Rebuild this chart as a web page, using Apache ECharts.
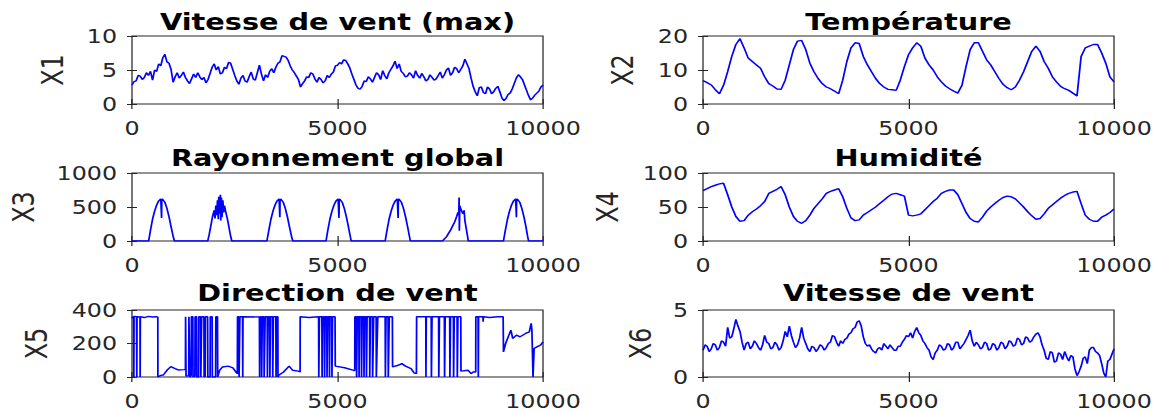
<!DOCTYPE html>
<html><head><meta charset="utf-8">
<script src="https://cdn.jsdelivr.net/npm/echarts@6.0.0/dist/echarts.min.js"></script>
<style>
html,body{margin:0;padding:0;background:#fff;overflow:hidden}
#wrap{width:1159px;height:412px;overflow:hidden;position:relative;background:#fff}
#chart{width:927.2px;height:412px;transform:scaleX(1.25);transform-origin:0 0}
</style></head>
<body><div id="wrap"><div id="chart"></div></div>
<script>
// ---------------- DATA ----------------
const titles = ['Vitesse de vent (max)', 'Température', 'Rayonnement global', 'Humidité', 'Direction de vent', 'Vitesse de vent'];
const yNames = ['X1', 'X2', 'X3', 'X4', 'X5', 'X6'];
const xTickValues = [0, 5000, 10000];
const yMax = [10, 20, 1000, 100, 400, 5];
const yInterval = [5, 10, 500, 50, 200, 5];
const stepFine = 50;    // x spacing of x1 and x6
const stepCoarse = 100; // x spacing of x2 and x4

const x1 = [
  2.8,3.3,3.4,4.2,4.1,3.6,3.9,4.6,4.2,4.8,3.5,5.0,4.8,5.9,5.6,6.8,7.3,6.2,6.0,5.1,
  3.2,4.0,4.6,3.8,4.2,4.7,3.9,3.4,3.0,3.7,4.4,3.9,4.6,4.0,3.6,3.9,3.1,3.6,4.5,5.4,
  5.9,5.0,5.5,4.4,4.6,5.4,5.2,6.1,6.0,5.1,4.2,3.4,2.9,3.8,4.2,3.4,3.2,4.0,4.7,3.7,
  3.5,4.6,5.7,4.4,3.4,4.3,3.9,4.8,5.2,4.6,5.4,6.0,6.2,7.1,7.0,6.9,6.4,5.6,5.0,4.6,
  4.1,3.6,2.5,3.0,3.4,4.0,3.9,4.6,4.4,3.7,3.2,3.9,3.6,3.1,3.4,4.2,3.9,4.4,4.7,5.6,
  5.7,6.1,5.9,6.5,6.4,5.9,5.3,4.4,3.6,2.8,2.3,2.2,2.6,3.4,3.3,4.0,3.7,3.2,3.9,4.6,
  4.3,3.6,4.9,4.2,3.7,4.6,5.1,5.6,6.3,5.2,5.9,4.8,4.5,4.0,4.1,4.6,4.3,3.8,4.9,4.2,
  3.8,4.5,4.0,3.4,3.6,4.3,3.9,3.5,3.7,4.2,4.7,3.8,4.3,5.0,5.3,4.2,4.6,5.4,5.2,4.6,
  5.1,5.6,6.6,5.9,5.2,3.8,2.6,1.8,1.2,2.4,2.5,1.7,1.5,2.5,2.2,1.5,1.8,2.3,2.6,1.8,
  0.9,0.5,0.8,1.4,1.6,2.2,3.0,3.8,4.3,4.0,3.6,2.8,2.0,1.2,0.6,0.9,1.3,1.6,1.9,2.5,
  2.8
];
const x2 = [
  6.9,6.3,5.6,4.2,3.0,5.5,9.5,14.0,17.5,19.2,
  16.5,13.5,12.5,11.5,10.5,8.0,6.0,5.3,4.4,4.3,
  7.0,11.5,16.0,18.5,18.7,16.0,12.0,9.5,7.5,6.0,
  5.0,4.5,3.8,3.0,7.0,12.5,16.5,18.0,17.8,14.0,
  11.5,9.5,7.5,6.0,5.0,4.3,4.2,4.0,7.0,11.0,
  14.5,16.5,18.0,17.0,13.5,11.5,10.0,8.0,6.5,5.3,
  4.5,3.8,3.2,5.5,11.0,16.0,18.0,18.0,15.5,13.0,
  11.5,9.5,7.5,5.8,4.8,4.2,5.0,7.0,9.5,12.5,
  15.5,17.0,15.5,12.5,10.5,8.0,6.5,5.2,4.5,4.0,
  3.2,2.4,14.0,16.5,17.0,17.5,17.5,15.0,12.0,8.0,
  6.5
];
const x3 = [
  [0,0],[405,0],[450,160],[500,320],[550,440],[600,530],[650,590],[700,620],[715,620],[720,340],[725,615],[750,610],[800,570],[850,480],[900,360],[950,210],[1000,70],[1034,0],
  [1843,0],[1880,100],[1920,230],[1960,360],[2000,450],[2020,330],[2040,520],[2060,380],[2080,600],[2100,320],[2110,650],[2130,400],[2150,680],[2160,300],[2175,640],[2190,350],[2210,600],[2230,420],[2250,520],[2280,430],[2320,330],[2360,200],[2400,70],[2428,0],
  [3282,0],[3330,160],[3380,320],[3430,440],[3480,530],[3530,590],[3580,620],[3592,620],[3597,350],[3602,615],[3630,610],[3680,570],[3730,480],[3780,360],[3830,210],[3880,70],[3912,0],
  [4721,0],[4765,160],[4815,320],[4865,440],[4915,530],[4965,590],[5015,620],[5030,620],[5036,340],[5042,615],[5065,610],[5115,570],[5165,480],[5215,360],[5265,210],[5310,70],[5333,0],
  [6160,0],[6205,160],[6255,320],[6305,440],[6355,530],[6405,590],[6455,620],[6470,620],[6475,340],[6480,615],[6505,610],[6555,570],[6605,480],[6655,360],[6705,210],[6750,70],[6772,0],
  [7554,0],[7650,60],[7750,160],[7850,280],[7900,360],[7930,420],[7950,380],[7959,640],[7965,150],[7975,520],[8000,470],[8050,400],[8080,450],[8100,300],[8150,120],[8183,0],
  [9038,0],[9085,160],[9135,320],[9185,440],[9235,530],[9285,590],[9335,620],[9348,620],[9353,350],[9358,615],[9385,610],[9435,570],[9485,480],[9535,360],[9585,210],[9625,70],[9649,0],[10000,0]
];
const x4 = [
  74,77,80,82,84,85,68,50,36,29,
  30,38,43,47,52,58,70,73,76,80,
  68,50,36,29,26,30,38,48,55,62,
  70,73,75,77,65,48,34,30,31,38,
  42,46,50,55,60,65,69,70,68,66,
  38,37,38,40,46,52,58,63,70,73,
  75,75,68,55,42,33,29,28,35,44,
  50,55,60,64,66,65,62,56,50,43,
  37,32,33,40,48,53,58,63,67,70,
  72,73,55,38,32,29,29,35,38,42,
  47
];
const x5 = [
  [0,350],[20,360],[40,358],[45,0],[50,362],[110,360],[117,0],[122,360],[195,358],[198,0],[203,360],[300,355],[400,362],[500,358],[600,360],[628,358],
  [630,0],[700,10],[764,12],[850,40],[944,62],[1050,50],[1124,42],[1259,44],[1300,45],
  [1304,360],[1310,360],[1315,5],[1380,8],[1385,360],[1400,360],[1405,0],[1440,10],[1445,360],[1480,360],[1485,0],[1530,5],[1535,360],[1570,360],[1575,0],[1620,0],[1625,360],[1670,360],[1675,0],[1690,0],[1695,360],[1750,360],[1755,0],[1780,5],[1785,360],[1840,360],[1845,0],[1900,0],[1905,360],[1950,360],[1955,0],[2035,0],[2040,360],[2080,360],[2085,0],
  [2131,40],[2203,60],[2338,65],[2455,55],[2545,25],[2563,20],
  [2568,360],[2600,360],[2605,0],[2620,0],[2625,360],[2690,360],[2695,0],[2700,360],[3100,358],[3105,0],[3115,360],[3150,360],[3155,0],[3170,360],[3210,360],[3215,0],[3240,360],[3290,360],[3295,0],[3310,360],[3350,360],[3355,0],[3370,360],[3420,360],[3425,0],[3440,360],[3500,360],[3505,0],[3520,360],[3548,360],
  [3552,0],[3570,10],[3687,30],[3822,65],[3912,40],[4047,35],[4090,30],
  [4092,360],[4300,355],[4540,360],[4545,0],[4560,360],[4620,360],[4625,0],[4640,360],[4680,360],[4685,0],[4700,360],[4740,360],[4745,0],[4760,360],[4800,360],[4805,0],[4815,360],[4860,360],[4865,0],[4880,360],[4940,360],
  [4946,65],[5171,55],[5396,40],[5420,38],
  [5423,360],[5460,360],[5465,0],[5480,360],[5520,360],[5525,0],[5535,360],[5580,360],[5585,0],[5600,360],[5640,360],[5645,0],[5660,360],[5700,360],[5705,0],[5720,360],[5780,360],[5785,0],[5800,360],[5850,360],[5855,0],[5880,360],[5940,360],[5945,0],[5980,360],[6160,360],[6165,0],[6180,360],[6230,360],[6235,0],[6260,360],[6335,360],
  [6340,60],[6475,70],[6565,80],[6655,65],[6790,50],[6862,25],[6920,20],
  [6925,360],[7149,360],[7152,0],[7160,360],[7280,360],[7285,0],[7300,360],[7460,360],[7465,0],[7480,360],[7600,360],[7605,0],[7620,360],[7730,360],[7735,0],[7750,360],[7820,360],[7825,0],[7840,360],[7910,360],[7915,0],[7930,360],[8000,360],
  [8004,35],[8180,40],[8250,20],[8300,30],[8363,30],
  [8366,360],[8420,360],[8426,0],[8432,360],[8540,360],[8543,330],[8550,360],[8700,355],[8900,360],[9030,360],
  [9038,150],[9090,200],[9218,280],[9263,230],[9353,250],[9443,240],[9577,260],[9667,270],[9712,320],[9730,280],[9757,0],[9784,170],[9850,180],[9940,190],[10000,210]
];
const x6 = [
  2.0,2.4,2.3,1.9,2.1,2.5,2.4,2.0,2.2,2.7,2.6,2.3,3.7,2.9,3.0,3.6,4.3,3.8,3.4,2.6,
  2.0,2.5,2.6,2.1,2.3,2.7,2.5,2.2,2.0,2.4,3.1,2.6,2.5,2.1,2.2,2.6,2.4,2.0,2.2,2.7,
  3.4,3.0,3.8,3.1,2.6,2.2,2.4,2.9,3.7,2.9,2.5,2.1,1.9,2.3,2.2,1.9,2.1,2.4,2.3,2.0,
  2.2,2.5,2.6,3.1,3.0,2.6,2.3,2.7,2.5,2.8,2.9,3.2,3.3,3.6,3.7,4.1,4.2,3.8,3.0,2.5,
  2.3,2.4,2.1,1.9,1.8,2.1,2.2,2.0,2.5,2.3,2.1,2.4,2.2,2.0,2.0,2.3,2.3,2.6,2.8,3.1,
  3.0,3.3,2.9,3.4,3.7,3.3,3.1,2.7,2.5,2.2,2.0,1.5,1.3,1.8,2.0,2.4,2.3,2.0,2.1,2.5,
  2.4,2.0,2.2,2.6,2.6,2.1,2.3,2.5,2.8,3.1,3.5,2.7,2.3,2.6,2.4,2.1,2.2,2.6,2.5,2.0,
  2.1,2.5,2.4,2.0,2.2,2.6,2.5,2.1,2.3,2.7,2.6,2.3,2.4,2.9,2.8,2.4,2.5,3.0,2.9,2.6,
  2.7,3.0,3.2,3.3,3.0,2.4,2.0,1.4,1.3,1.9,1.8,1.1,1.2,1.8,1.7,1.3,1.9,1.5,1.2,1.6,
  1.5,0.6,0.1,0.4,0.8,1.4,1.5,1.0,2.0,2.2,2.2,1.9,1.8,1.6,1.0,0.3,0.0,1.2,1.3,1.7,
  2.1
];

// ---------------- LAYOUT (reference pixels) ----------------
const S = 1.25;                 // horizontal stretch of the reference figure
const colLeft = [132, 703];
const plotW = 411;
const rowTop = [36, 173, 310];
const rowH = [68, 68, 67];
const titleTop = [11, 147, 282];
const nameGapPx = [64, 65, 93, 80, 80, 47];
const AX = '#262626';
const FONT = "'DejaVu Sans', sans-serif";

const withX = (arr, step) => arr.map((v, i) => [i * step, v]);
const seriesData = [withX(x1, stepFine), withX(x2, stepCoarse), x3, withX(x4, stepCoarse), x5, withX(x6, stepFine)];

const grid = [], xAxis = [], yAxis = [], series = [], title = [];
for (let k = 0; k < 6; k++) {
  const r = Math.floor(k / 2), c = k % 2;
  grid.push({
    left: colLeft[c] / S, top: rowTop[r], width: plotW / S, height: rowH[r],
    show: true, borderColor: AX, borderWidth: 1, backgroundColor: '#fff',
    containLabel: false, outerBoundsMode: 'none'
  });
  const tickX = { show: true, inside: true, length: 5, lineStyle: { color: AX, width: 1 } };
  const tickY = { show: true, inside: true, length: 4, lineStyle: { color: AX, width: 1 } };
  const lbl = { fontFamily: FONT, fontSize: 19, color: AX, margin: 12, formatter: v => String(v), showMinLabel: true, showMaxLabel: true };
  const xlbl = Object.assign({}, lbl, { margin: 15 });
  xAxis.push({ type: 'value', gridIndex: k, position: 'bottom', min: xTickValues[0], max: xTickValues[2], interval: xTickValues[1] - xTickValues[0],
    axisLine: { show: false }, axisTick: tickX, splitLine: { show: false }, axisLabel: xlbl });
  xAxis.push({ type: 'value', gridIndex: k, position: 'top', min: xTickValues[0], max: xTickValues[2], interval: xTickValues[1] - xTickValues[0],
    axisLine: { show: false }, axisTick: tickX, splitLine: { show: false }, axisLabel: { show: false } });
  yAxis.push({ type: 'value', gridIndex: k, position: 'left', min: 0, max: yMax[k], interval: yInterval[k],
    axisLine: { show: false }, axisTick: tickY, splitLine: { show: false }, axisLabel: lbl,
    name: yNames[k], nameLocation: 'middle', nameGap: nameGapPx[k] / S, nameRotate: 90,
    nameTextStyle: { fontFamily: FONT, fontSize: 24, color: AX } });
  yAxis.push({ type: 'value', gridIndex: k, position: 'right', min: 0, max: yMax[k], interval: yInterval[k],
    axisLine: { show: false }, axisTick: tickY, splitLine: { show: false }, axisLabel: { show: false } });
  series.push({ type: 'line', xAxisIndex: 2 * k, yAxisIndex: 2 * k, data: seriesData[k],
    showSymbol: false, symbol: 'none', clip: true, lineStyle: { color: '#0000ff', width: 1.4 }, animation: false });
  title.push({ text: titles[k], left: (colLeft[c] + plotW / 2) / S, top: titleTop[r], textAlign: 'center', padding: 0,
    textStyle: { fontFamily: FONT, fontWeight: 'bold', fontSize: 23, color: '#000' } });
}

const chart = echarts.init(document.getElementById('chart'), null, { renderer: 'svg' });
chart.setOption({ animation: false, backgroundColor: '#fff', title, grid, xAxis, yAxis, series });
</script>
</body></html>
